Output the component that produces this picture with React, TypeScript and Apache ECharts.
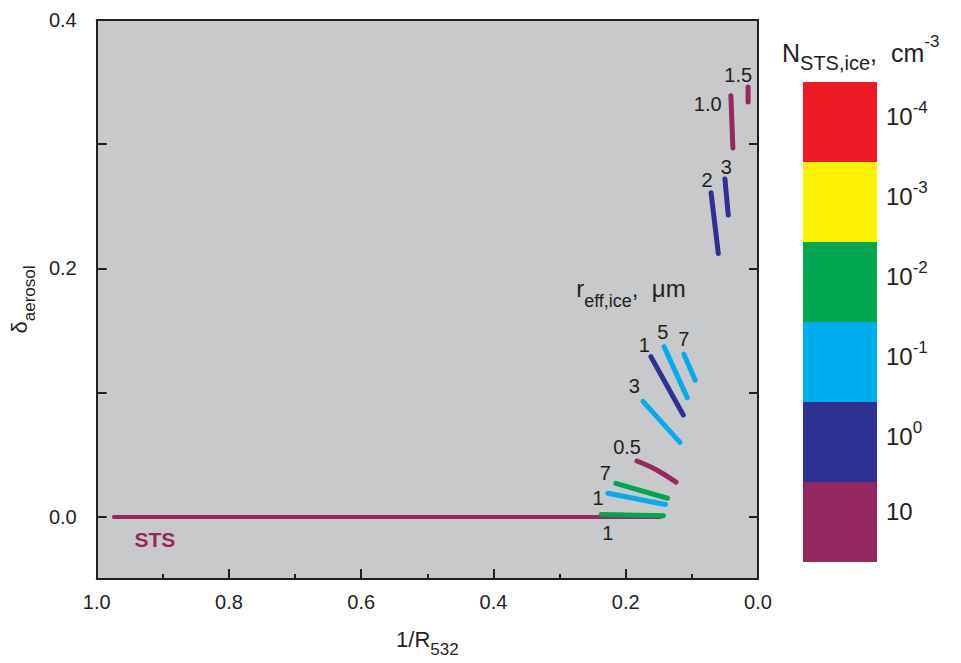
import React, { useEffect, useRef } from "react";
import * as echarts from "echarts";

// Colour levels of N_STS,ice (top to bottom in the colour bar)
const levelColors = ["#ED1C24", "#FFF200", "#00A651", "#00AEEF", "#2E3192", "#93295F"];
const levelBase = ["10", "10", "10", "10", "10", "10"];
const levelExp = ["-4", "-3", "-2", "-1", "0", ""];

// Segments (x = 1/R532, y = delta_aerosol)
const segLevel = [5, 2, 3, 2, 5, 3, 3, 3, 4, 4, 4, 5, 5];
const segX = [
  [0.974, 0.148],
  [0.237, 0.143],
  [0.227, 0.14],
  [0.215, 0.137],
  [0.183, 0.154, 0.124],
  [0.174, 0.118],
  [0.142, 0.107],
  [0.112, 0.095],
  [0.162, 0.113],
  [0.071, 0.06],
  [0.05, 0.045],
  [0.041, 0.038],
  [0.015, 0.015],
];
const segY = [
  [0.0, 0.0],
  [0.002, 0.001],
  [0.019, 0.01],
  [0.027, 0.015],
  [0.045, 0.038, 0.028],
  [0.093, 0.06],
  [0.137, 0.096],
  [0.131, 0.11],
  [0.129, 0.082],
  [0.261, 0.212],
  [0.272, 0.243],
  [0.339, 0.297],
  [0.346, 0.334],
];

// Size labels next to the segments
const sizeLabels = ["1", "1", "7", "0.5", "3", "1", "5", "7", "2", "3", "1.0", "1.5"];
const sizeLabelX = [0.227, 0.242, 0.231, 0.198, 0.187, 0.172, 0.144, 0.112, 0.077, 0.048, 0.076, 0.03];
const sizeLabelY = [-0.013, 0.015, 0.035, 0.056, 0.105, 0.138, 0.149, 0.143, 0.271, 0.282, 0.332, 0.356];

const xTicks = [0, 0.2, 0.4, 0.6, 0.8, 1.0];
const yLabelValues = [0, 0.2, 0.4];
const yTickValues = [0, 0.1, 0.2, 0.3, 0.4];

const INK = "#231F20";
const FONT = "'Liberation Sans', Arial, sans-serif";

export default function App() {
  const ref = useRef<HTMLDivElement>(null);
  useEffect(() => {
    if (!ref.current) return;
    const chart = echarts.init(ref.current, null, { renderer: "svg" });

    const lineSeries = segX.map((xs, i) => ({
      type: "line",
      data: xs.map((x, j) => [x, segY[i][j]]),
      symbol: "none",
      smooth: xs.length > 2 ? 0.4 : false,
      silent: true,
      lineStyle: { color: levelColors[segLevel[i]], width: i === 0 ? 4 : 5, cap: "round" },
      z: 3,
    }));

    const axisLineStyle = { color: INK, width: 2 };
    const tickStyle = { color: INK, width: 2 };

    const option: any = {
      animation: false,
      backgroundColor: "#ffffff",
      textStyle: { fontFamily: FONT },
      grid: {
        left: 96,
        top: 20,
        width: 662,
        height: 559,
        show: true,
        backgroundColor: "#C8C9CB",
        borderWidth: 0,
      },
      xAxis: [
        {
          type: "value",
          position: "bottom",
          inverse: true,
          min: 0,
          max: 1,
          interval: 0.2,
          axisLine: { show: true, onZero: false, lineStyle: axisLineStyle },
          axisTick: { show: true, inside: true, length: 10, lineStyle: tickStyle },
          minorTick: { show: true, splitNumber: 2, length: 5, lineStyle: tickStyle },
          splitLine: { show: false },
          axisLabel: {
            color: INK,
            fontSize: 20,
            fontFamily: FONT,
            margin: 13,
            formatter: (v: number) => (xTicks.includes(Math.round(v * 10) / 10) ? v.toFixed(1) : ""),
          },
          name: "{b|1/R}{s|532}",
          nameLocation: "middle",
          nameGap: 49,
          nameTextStyle: {
            rich: {
              b: { fontSize: 22, color: INK, fontFamily: FONT, lineHeight: 30, verticalAlign: "top" },
              s: { fontSize: 17, color: INK, fontFamily: FONT, lineHeight: 17, verticalAlign: "bottom" },
            },
          },
        },
        {
          type: "value",
          position: "top",
          inverse: true,
          min: 0,
          max: 1,
          interval: 0.2,
          axisLine: { show: true, onZero: false, lineStyle: axisLineStyle },
          axisTick: { show: false },
          axisLabel: { show: false },
          splitLine: { show: false },
        },
      ],
      yAxis: [
        {
          type: "value",
          position: "left",
          min: -0.05,
          max: 0.4,
          axisLine: { show: true, onZero: false, lineStyle: axisLineStyle },
          axisTick: {
            show: true,
            inside: true,
            length: 10,
            customValues: yTickValues,
            lineStyle: tickStyle,
          },
          splitLine: { show: false },
          axisLabel: {
            color: INK,
            fontSize: 20,
            fontFamily: FONT,
            margin: 20,
            customValues: yLabelValues,
            formatter: (v: number) => v.toFixed(1),
          },
          name: "{b|δ}{s|aerosol}",
          nameLocation: "middle",
          nameGap: 42,
          nameRotate: 90,
          nameTextStyle: {
            rich: {
              b: { fontSize: 22, color: INK, fontFamily: FONT, lineHeight: 30, verticalAlign: "top" },
              s: { fontSize: 17, color: INK, fontFamily: FONT, lineHeight: 17, verticalAlign: "bottom" },
            },
          },
        },
        {
          type: "value",
          position: "right",
          min: -0.05,
          max: 0.4,
          axisLine: { show: true, onZero: false, lineStyle: axisLineStyle },
          axisTick: {
            show: true,
            inside: true,
            length: 9,
            customValues: yTickValues,
            lineStyle: tickStyle,
          },
          axisLabel: { show: false },
          splitLine: { show: false },
        },
      ],
      series: [
        ...lineSeries,
        {
          type: "scatter",
          symbolSize: 0,
          silent: true,
          z: 5,
          itemStyle: { opacity: 1 },
          data: sizeLabels.map((t, i) => ({ name: t, value: [sizeLabelX[i], sizeLabelY[i]] })),
          label: {
            show: true,
            position: "inside",
            formatter: "{b}",
            color: INK,
            opacity: 1,
            fontSize: 20,
            fontFamily: FONT,
          },
        },
        {
          type: "scatter",
          symbolSize: 0,
          silent: true,
          z: 5,
          itemStyle: { opacity: 1 },
          data: [{ name: "STS", value: [0.912, -0.0185] }],
          label: {
            show: true,
            position: "inside",
            formatter: "{b}",
            color: levelColors[5],
            opacity: 1,
            fontSize: 21,
            fontWeight: "bold",
            fontFamily: FONT,
          },
        },
        {
          type: "scatter",
          symbolSize: 0,
          silent: true,
          z: 5,
          itemStyle: { opacity: 1 },
          data: [{ name: "reff", value: [0.275, 0.18] }],
          label: {
            show: true,
            position: "right",
            distance: 0,
            opacity: 1,
            formatter: "{b|r}{s|eff,ice}{b|,  μm}",
            rich: {
              b: { fontSize: 24, color: INK, fontFamily: FONT, lineHeight: 34, verticalAlign: "top" },
              s: { fontSize: 18, color: INK, fontFamily: FONT, lineHeight: 18, verticalAlign: "bottom" },
            },
          },
        },
      ],
      graphic: [
        ...levelColors.map((c, i) => ({
          type: "rect",
          left: 803,
          top: 82 + i * 80,
          shape: { width: 74, height: 80 },
          style: { fill: c },
          silent: true,
        })),
        ...levelColors.map((_, i) => ({
          type: "text",
          left: 886,
          top: 99 + i * 80,
          silent: true,
          style: {
            text: levelExp[i] ? `{b|${levelBase[i]}}{p|${levelExp[i]}}` : `{b|${levelBase[i]}}`,
            rich: {
              b: { fontSize: 24, fill: INK, fontFamily: FONT, lineHeight: 35, verticalAlign: "middle" },
              p: { fontSize: 17, fill: INK, fontFamily: FONT, lineHeight: 17, verticalAlign: "top" },
            },
          },
        })),
        {
          type: "text",
          left: 782,
          top: 33,
          silent: true,
          style: {
            text: "{b|N}{s|STS,ice}{b|,  cm}{p|-3}",
            rich: {
              b: { fontSize: 25, fill: INK, fontFamily: FONT, lineHeight: 40, verticalAlign: "middle" },
              s: { fontSize: 20, fill: INK, fontFamily: FONT, lineHeight: 20, verticalAlign: "bottom" },
              p: { fontSize: 17, fill: INK, fontFamily: FONT, lineHeight: 17, verticalAlign: "top" },
            },
          },
        },
      ],
    };

    chart.setOption(option);
    return () => chart.dispose();
  }, []);

  return (
    <div
      ref={ref}
      style={{ position: "fixed", left: 0, top: 0, width: 961, height: 663, background: "#fff" }}
    />
  );
}
